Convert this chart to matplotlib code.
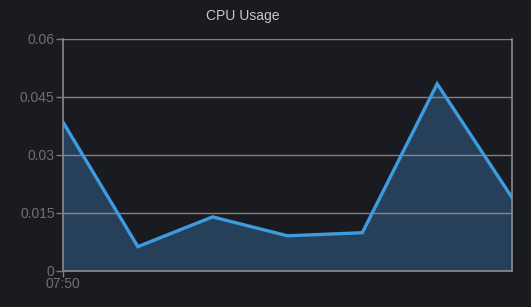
import matplotlib
matplotlib.use("Agg")
import matplotlib.pyplot as plt

# CPU usage samples, one per minute starting 07:50
times = ["07:50", "07:51", "07:52", "07:53", "07:54", "07:55", "07:56"]
cpu = [0.0385, 0.0063, 0.0140, 0.0091, 0.0099, 0.0484, 0.0190]
y_ticks = [0, 0.015, 0.03, 0.045, 0.06]
y_labels = ["0", "0.015", "0.03", "0.045", "0.06"]

bg = "#1a1b20"
grid_col = "#9a9a9a"
tick_col = "#7c7c7c"

plt.rcParams["font.family"] = ["Liberation Sans", "DejaVu Sans"]

fig = plt.figure(figsize=(5.31, 3.07), dpi=100, facecolor=bg)
ax = fig.add_axes([63 / 531, 36 / 307, 449 / 531, 232 / 307])
ax.set_facecolor(bg)

x = list(range(len(times)))
ax.fill_between(x, cpu, 0, color="#26405a", zorder=1)
ax.plot(x, cpu, color="#3d9be0", linewidth=2.4, zorder=3, solid_joinstyle="miter")

ax.set_xlim(0, len(times) - 1)
ax.set_ylim(0, 0.06)
ax.set_yticks(y_ticks)
ax.set_yticklabels(y_labels)
ax.set_xticks([0])
ax.set_xticklabels([times[0]])

ax.grid(True, axis="y", color=grid_col, linewidth=1.0, alpha=0.8, zorder=2)
ax.set_axisbelow(False)
for s in ax.spines.values():
    s.set_color("#8a8a8a")
    s.set_linewidth(1.2)
ax.spines["top"].set_visible(False)

ax.tick_params(axis="y", colors=tick_col, labelsize=10, length=5, width=1, pad=1)
ax.tick_params(axis="x", colors=tick_col, labelsize=10, length=4, width=1, pad=0)
for lbl in ax.get_yticklabels() + ax.get_xticklabels():
    lbl.set_color("#707070")

fig.text(242.5 / 531, 1 - 16 / 307, "CPU Usage", color="#c8c8c8", fontsize=10,
         ha="center", va="center")

fig.savefig("out.png", dpi=100, facecolor=bg)
